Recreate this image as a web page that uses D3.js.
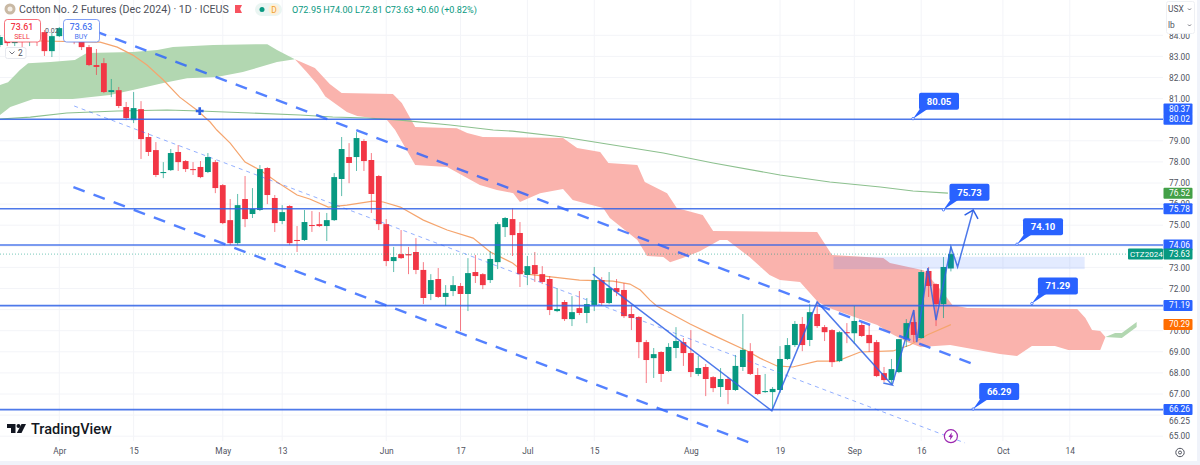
<!DOCTYPE html>
<html>
<head>
<meta charset="utf-8">
<title>Cotton No. 2 Futures</title>
<script src="https://cdn.jsdelivr.net/npm/d3@7"></script>
<style>
	body { margin: 0; background: #fff; }
	svg { display: block; font-family: Roboto, sans-serif; }
	.axis text { font-size: 8.4px; fill: #50535e; font-family: Roboto, sans-serif; }
	.axis path, .axis line { display: none; }
</style>
</head>
<body>
<div id="chart"></div>
<script>
//candles, first one is bar -8 (bar 0 is 1 Apr), rows of ten bars
var firstBar = -8;
var opens = [
	83.54,83.87,83.63,83.96,83.68,83.87,84.15,83.25,83.96,84.25,
	84.01,84.01,83.44,82.59,82.68,81.31,81.40,80.60,79.98,80.50,
	79.18,78.56,77.47,77.61,78.47,78.04,77.66,77.76,77.52,77.99,
	76.90,75.24,74.15,76.24,75.53,75.72,77.71,76.29,75.20,75.91,
	74.30,74.30,75.01,75.05,74.96,75.24,77.19,78.23,78.23,78.99,
	78.09,77.33,75.05,73.30,73.63,73.63,73.73,72.88,71.74,72.45,
	71.60,71.88,72.12,71.74,72.78,72.68,72.40,73.25,74.91,75.29,
	74.63,72.64,73.11,72.68,72.45,70.93,71.36,70.55,71.07,70.84,
	71.22,72.40,71.31,72.02,71.93,70.79,70.65,69.46,68.70,68.99,
	68.09,69.18,69.46,68.94,67.95,68.28,67.80,67.33,67.71,67.19,
	68.28,69.03,67.90,67.09,67.09,67.19,68.66,69.32,70.32,69.56,
	70.79,70.17,70.03,68.56,69.93,69.88,70.27,69.80,69.46,67.99,
	67.66,68.04,69.60,70.41,69.65,72.83,72.21,71.26,72.95];
var highs = [
	84.01,84.06,84.11,84.15,84.06,84.20,84.25,84.11,84.39,84.49,
	84.15,84.25,83.54,83.35,82.92,81.93,81.55,80.84,81.31,80.88,
	79.37,78.94,77.99,78.61,78.80,78.09,77.99,78.04,78.42,78.09,
	76.95,76.24,76.48,77.33,76.76,77.85,77.75,76.43,75.95,75.95,
	74.96,75.72,75.67,75.62,75.58,77.47,79.18,78.89,79.41,79.08,
	78.42,77.38,75.29,73.97,74.77,73.97,74.39,73.25,72.68,72.97,
	72.16,72.59,72.26,73.44,73.59,72.73,73.77,75.15,75.39,75.81,
	75.15,73.54,73.73,73.06,72.59,72.02,71.45,71.64,71.88,71.55,
	73.02,72.54,72.78,72.45,72.26,71.22,70.69,69.56,69.18,69.03,
	69.41,70.17,69.65,70.03,68.80,68.42,67.85,68.23,67.80,68.85,
	70.79,69.41,68.23,67.95,67.33,69.27,69.65,70.46,70.65,71.26,
	71.36,70.27,70.08,69.98,70.36,71.17,70.41,70.27,69.56,68.28,
	68.66,69.61,70.55,70.98,72.88,73.02,72.24,73.49,74.00];
var lows = [
	83.44,83.49,83.49,83.44,83.49,83.49,83.02,82.97,83.92,83.87,
	83.58,83.30,82.54,82.12,81.26,81.07,80.55,79.98,79.84,78.14,
	78.28,77.28,77.23,77.57,77.57,77.52,77.38,77.23,77.47,76.52,
	75.05,74.06,74.06,74.91,75.34,75.67,76.00,74.68,75.05,74.06,
	73.73,74.25,74.68,74.91,74.25,75.20,76.38,76.99,77.57,77.57,
	75.58,74.77,73.06,72.78,73.40,72.68,72.68,71.26,71.45,71.55,
	71.17,71.64,69.98,70.93,72.26,71.97,72.26,72.92,74.44,73.54,
	72.07,72.16,72.31,72.21,70.74,70.88,70.46,70.22,70.74,70.36,
	70.93,71.17,71.26,71.64,70.60,70.03,68.70,67.52,67.76,67.57,
	68.04,68.70,68.33,67.80,67.85,66.90,67.09,66.86,66.52,67.14,
	68.09,67.90,66.95,67.05,66.29,67.05,68.61,69.23,69.03,69.27,
	70.13,69.51,68.28,68.51,69.41,69.37,69.70,68.99,67.80,67.57,
	67.43,67.99,69.23,69.46,69.63,71.60,70.22,70.60,72.81];
var closes = [
	83.92,83.63,83.96,83.68,83.87,83.77,83.25,83.96,84.34,84.01,
	83.77,83.44,82.59,82.50,81.31,81.40,80.65,80.08,80.55,79.08,
	78.47,77.38,77.52,78.42,77.99,77.66,77.61,77.28,78.23,76.76,
	75.10,74.15,75.95,75.29,75.77,77.66,76.43,75.10,75.62,74.15,
	74.25,75.15,74.96,74.96,75.24,77.28,78.61,77.95,79.13,78.04,
	76.48,75.05,73.30,73.49,73.44,73.57,72.88,71.55,72.40,71.60,
	71.79,72.16,71.74,72.73,72.59,72.16,73.40,75.05,75.34,74.53,
	72.68,73.06,72.68,72.31,70.98,71.03,70.55,70.88,70.84,71.26,
	72.40,71.31,72.02,71.83,70.69,70.60,69.46,68.61,68.89,67.95,
	69.23,69.51,68.94,68.04,68.23,67.71,67.28,67.71,67.19,68.33,
	69.09,67.95,67.00,67.14,67.24,68.66,69.32,70.32,69.32,70.88,
	70.22,69.93,68.51,69.93,69.88,70.46,69.75,69.41,67.85,67.66,
	68.18,69.60,70.36,69.80,72.78,72.12,71.26,73.02,73.63];

//moving averages as [bar, price]
var ema = [[-2.6,83.73],[5.5,83.68],[7.8,83.44],[9.9,83.06],[11.8,82.59],[14,81.88],[16.2,81.07],[18.5,80.46],[20.3,79.89],[21.2,79.51],[23,78.89],[25,77.99],[27,77.61],[29.3,77.05],[32,76.43],[33.7,76.24],[36.2,75.86],[38.7,75.95],[42.2,76.14],[43.6,76.10],[45.9,75.86],[49,75.24],[52.2,74.77],[55.7,74.39],[58,73.73],[61,73.21],[62.9,72.68],[66.5,72.54],[70,72.40],[74.5,72.35],[76.8,72.21],[78.2,71.93],[79.5,71.45],[80.4,71.17],[84.9,70.32],[88,69.79],[92.6,69.04],[94.3,68.70],[96.6,68.33],[98.7,68.28],[102,68.56],[104.7,68.56],[107.8,68.99],[112.2,69.04],[114.5,69.32],[116.8,69.80],[120,70.29]];
var sma = [[-8,80.03],[-3.9,80.12],[1,80.32],[7.8,80.41],[14.5,80.46],[18.9,80.41],[25.7,80.32],[32.4,80.22],[36.8,80.13],[41.4,80.08],[45.9,79.98],[52.6,79.75],[58.4,79.51],[61,79.46],[67.8,79.18],[73.7,78.85],[81.3,78.42],[88,77.95],[97,77.38],[103.7,77.05],[110.5,76.81],[114.9,76.62],[119.6,76.52]];

//ichimoku cloud edges as [bar, price]
var greenTop = [[-8,81.64],[-6.9,81.78],[-5.3,82.35],[-4.2,82.68],[-1.2,82.73],[2.1,82.83],[3.7,83.16],[9.9,83.21],[13.2,83.30],[15.3,83.44],[20.7,83.54],[28,83.58],[29.3,83.30],[31.7,82.87]];
var greenBottom = [[-8,80.22],[-6.6,80.60],[-3.5,80.98],[1.8,80.98],[6.8,81.17],[9.9,81.41],[14,81.74],[17.2,81.97],[21.2,82.02],[24.7,82.26],[29.3,82.73],[31.7,82.87]];
var redTop = [[31.7,82.87],[34.4,82.45],[36.4,81.69],[38,81.26],[44.9,81.22],[46.1,80.79],[47.9,79.65],[53.5,79.60],[54.9,79.37],[57,79.18],[67.8,79.13],[69.7,78.66],[72.8,78.47],[73.9,77.95],[77.8,77.85],[78.8,77.05],[81.8,76.52],[83.1,75.81],[86.6,75.48],[88,74.72],[102,74.68],[104,73.59],[110.9,73.44],[111.8,73.21],[116.3,72.87],[119,71.79],[120.2,71.22],[122.2,71.07],[137,71.03],[138.1,70.60],[139,70.03],[140.1,69.98],[140.8,69.70]];
var redBottom = [[31.7,82.87],[33.2,82.30],[34.8,81.65],[35.8,81.10],[38.7,80.36],[40.1,80.17],[44.1,79.98],[45.2,79.51],[47.9,77.85],[52.2,77.76],[56.6,76.90],[58.9,76.67],[61.1,76.52],[62,76.10],[64.7,76.52],[67.8,76.71],[69.1,76.19],[73.2,75.81],[74.1,75.34],[77.8,74.30],[79.1,73.54],[81.3,73.49],[82.2,73.25],[83.9,73.44],[86.2,73.77],[88.9,74.30],[89.9,74.30],[92.9,73.49],[95.6,72.64],[97,72.40],[99.7,72.31],[102.1,71.36],[104,71.03],[107.4,70.60],[110.1,70.27],[111.8,69.89],[114.1,69.46],[115.9,69.23],[119.9,69.32],[126.6,68.89],[128.9,68.80],[130.9,69.27],[134,69.27],[135.8,69.09],[140.1,69.09],[140.8,69.70]];
var futureTop = [[140.8,69.70],[142.1,69.89],[143,69.89],[145,70.41]];
var futureBottom = [[140.8,69.70],[143,69.65],[145,70.17]];

//drawings
var levels = [80.02, 75.78, 74.06, 71.19, 66.26];
var callouts = [[114.9,80.05],[119,75.73],[128.9,74.10],[130.9,71.29],[123,66.29]];
var channelWide = [[[4.8,84.20],[123,68.42]], [[1.9,76.81],[93,64.68]]];
var channelMid = [[2,80.65],[121.9,64.68]];
var zigzag = [[71.8,72.68],[95.9,66.2],[102,71.36],[112.1,67.43],[110.9,67.52],[112.1,67.43],[115,70.98],[115.4,69.46],[116.9,72.97],[118,70.50],[120,73.97],[120.9,73.02],[123,75.72]];
var crossMark = [18.9,80.41];
var boxBars = [104.2,138],
	boxPrices = [73.5,72.92];
var eventMark = [120,65];

//axes, gridTicks get a line, yTicks also get a label (the rest sit under price tags)
var gridTicks = [84,83,82,81,80,79,78,77,76,75,74,73,72,71,70,69,68,67,66,65];
var yTicks = [84,83,82,81,79,78,77,76,75,73,72,70,69,68,67,66.25,65];
var timeBars = [0,10,22,30,44,54,63,72,85,97,107,116,127,136];
var timeLabels = ["Apr","15","May","13","Jun","17","Jul","15","Aug","19","Sep","16","Oct","14"];

//price tags on the right
var tagPrices = [80.37,80.02,76.52,75.78,74.06,73.63,71.19,70.29,66.26];
var tagColours = ["#2962FF","#2962FF","#43A047","#2962FF","#2962FF","#089981","#2962FF","#FF6D00","#2962FF"];

var width = 1200, height = 465;
var upColour = "#089981", downColour = "#F23645", blue = "#2962FF";

var x = d3.scaleLinear().domain([0, 136]).range([59.3, 59.3 + 136 * 7.43]);
var y = d3.scaleLinear().domain([65, 84]).range([436.2, 35.3]);

var svg = d3.select("#chart").append("svg")
	.attr("width", width)
	.attr("height", height);

var line = d3.line()
	.x(function(d){ return x(d[0]); })
	.y(function(d){ return y(d[1]); });

function drawGrid() {
	var grid = svg.append("g");
	grid.selectAll(".h").data(gridTicks).enter().append("line")
		.attr("x1", 0).attr("x2", 1163)
		.attr("y1", function(d){ return y(d); })
		.attr("y2", function(d){ return y(d); })
		.attr("stroke", "#f3f4f8");
	grid.selectAll(".v").data(timeBars).enter().append("line")
		.attr("x1", function(d){ return x(d); })
		.attr("x2", function(d){ return x(d); })
		.attr("y1", 0).attr("y2", 441)
		.attr("stroke", "#f3f4f8");
}

function drawCloud(top, bottom, colour) {
	svg.append("path")
		.attr("d", line(top.concat(bottom.slice().reverse())) + "Z")
		.attr("fill", colour);
}

function drawAverages() {
	svg.append("path").attr("d", line(sma))
		.attr("fill", "none").attr("stroke", "#8cc08e").attr("stroke-width", 1.1);
	svg.append("path").attr("d", line(ema))
		.attr("fill", "none").attr("stroke", "#f5a56e").attr("stroke-width", 1.2);
}

function drawCandles() {
	var bars = d3.range(opens.length);
	var candles = svg.append("g").selectAll("g").data(bars).enter().append("g");
	function colour(i) { return closes[i] >= opens[i] ? upColour : downColour; }
	function barX(i) { return x(i + firstBar); }
	candles.append("line")
		.attr("x1", barX).attr("x2", barX)
		.attr("y1", function(i){ return y(highs[i]); })
		.attr("y2", function(i){ return y(lows[i]); })
		.attr("stroke", colour)
		.attr("stroke-opacity", 0.65);
	candles.append("rect")
		.attr("x", function(i){ return barX(i) - 2.9; })
		.attr("width", 5.8)
		.attr("y", function(i){ return y(Math.max(opens[i], closes[i])); })
		.attr("height", function(i){ return Math.max(1, Math.abs(y(opens[i]) - y(closes[i]))); })
		.attr("fill", colour);
}

function drawDrawings() {
	//highlight box
	svg.append("rect")
		.attr("x", x(boxBars[0]))
		.attr("width", x(boxBars[1]) - x(boxBars[0]))
		.attr("y", y(boxPrices[0]))
		.attr("height", y(boxPrices[1]) - y(boxPrices[0]))
		.attr("fill", blue)
		.attr("fill-opacity", 0.13);

	//last price dotted line
	svg.append("line")
		.attr("x1", 0).attr("x2", 1163)
		.attr("y1", y(closes[closes.length - 1]))
		.attr("y2", y(closes[closes.length - 1]))
		.attr("stroke", upColour)
		.attr("stroke-opacity", 0.55)
		.attr("stroke-dasharray", "1 2");

	//horizontal levels
	svg.append("g").selectAll("line").data(levels).enter().append("line")
		.attr("x1", 0).attr("x2", 1163)
		.attr("y1", function(d){ return y(d); })
		.attr("y2", function(d){ return y(d); })
		.attr("stroke", "#2f62e6")
		.attr("stroke-opacity", 0.85)
		.attr("stroke-width", 1.6);

	//channel
	channelWide.forEach(function(c){
		svg.append("path").attr("d", line(c))
			.attr("fill", "none")
			.attr("stroke", blue)
			.attr("stroke-opacity", 0.8)
			.attr("stroke-width", 2.4)
			.attr("stroke-dasharray", "12 9.5");
	});
	svg.append("path").attr("d", line(channelMid))
		.attr("fill", "none")
		.attr("stroke", blue)
		.attr("stroke-opacity", 0.5)
		.attr("stroke-width", 1)
		.attr("stroke-dasharray", "4 4");

	//zigzag with arrow on the end
	var n = zigzag.length,
		tip = [x(zigzag[n - 1][0]), y(zigzag[n - 1][1])],
		prev = [x(zigzag[n - 2][0]), y(zigzag[n - 2][1])],
		back = Math.atan2(prev[1] - tip[1], prev[0] - tip[0]),
		head = [back - 0.77, back + 0.77].map(function(a){
			return [tip[0] + 10 * Math.cos(a), tip[1] + 10 * Math.sin(a)];
		});
	svg.append("path").attr("d", line(zigzag))
		.attr("fill", "none")
		.attr("stroke", "#2f62e6")
		.attr("stroke-opacity", 0.85)
		.attr("stroke-width", 1.5);
	svg.append("path")
		.attr("d", "M" + head[0] + "L" + tip + "L" + head[1])
		.attr("fill", "none")
		.attr("stroke", "#2f62e6")
		.attr("stroke-width", 1.5);

	//cross
	svg.append("path")
		.attr("d", d3.symbol().type(d3.symbolCross).size(34)())
		.attr("transform", "translate(" + x(crossMark[0]) + "," + y(crossMark[1]) + ")")
		.attr("fill", "#2f62e6");
}

function drawCallouts() {
	var groups = svg.append("g").selectAll("g").data(callouts).enter().append("g")
		.attr("transform", function(d){ return "translate(" + x(d[0]) + "," + y(d[1]) + ")"; });
	groups.append("path")
		.attr("d", "M0,0L7,-10L15,-10Z")
		.attr("fill", blue);
	groups.append("circle")
		.attr("r", 1.2)
		.attr("fill", "#fff")
		.attr("stroke", blue)
		.attr("stroke-width", 0.8);
	groups.append("rect")
		.attr("x", 6).attr("y", -26)
		.attr("width", 40).attr("height", 17)
		.attr("rx", 2)
		.attr("fill", blue);
	groups.append("text")
		.attr("x", 26).attr("y", -14)
		.attr("text-anchor", "middle")
		.attr("fill", "#fff")
		.attr("font-size", 9.5)
		.attr("font-weight", 700)
		.text(function(d){ return d[1].toFixed(2); });
}

function drawAxes() {
	var yAxis = d3.axisRight(y)
		.tickValues(yTicks)
		.tickSize(0)
		.tickPadding(0)
		.tickFormat(d3.format(".2f"));
	var yGroup = svg.append("g").attr("class", "axis")
		.attr("transform", "translate(1169,0)")
		.call(yAxis);
	//the 66.25 label sits pushed below the 66.26 tag
	yGroup.selectAll(".tick text").filter(function(d){ return d == 66.25; })
		.attr("y", 11);

	var xAxis = d3.axisBottom(x)
		.tickValues(timeBars)
		.tickSize(0)
		.tickPadding(7)
		.tickFormat(function(d, i){ return timeLabels[i]; });
	svg.append("g").attr("class", "axis")
		.attr("transform", "translate(0,441)")
		.call(xAxis);

	//price tags
	var tags = svg.append("g").selectAll("g").data(tagPrices).enter().append("g");
	tags.append("rect")
		.attr("x", 1163.5).attr("width", 29).attr("height", 11).attr("rx", 1)
		.attr("y", function(d){ return y(d) - 5.5 - (d == 80.37 ? 3 : 0); })
		.attr("fill", function(d, i){ return tagColours[i]; });
	tags.append("text")
		.attr("x", 1169)
		.attr("y", function(d){ return y(d) + 2.8 - (d == 80.37 ? 3 : 0); })
		.attr("fill", "#fff")
		.attr("font-size", 8.4)
		.text(function(d){ return d.toFixed(2); });

	//symbol tag next to last price
	svg.append("rect")
		.attr("x", 1128).attr("y", y(closes[closes.length - 1]) - 5.5)
		.attr("width", 35).attr("height", 11).attr("rx", 1)
		.attr("fill", upColour);
	svg.append("text")
		.attr("x", 1130).attr("y", y(closes[closes.length - 1]) + 2.8)
		.attr("fill", "#fff")
		.attr("font-size", 8)
		.text("CTZ2024");
}

function drawHeader() {
	svg.append("circle").attr("cx", 10).attr("cy", 9).attr("r", 5.5).attr("fill", "#c9b9a4");
	svg.append("circle").attr("cx", 10).attr("cy", 9).attr("r", 2.5).attr("fill", "#f4efe8");
	svg.append("text").attr("x", 19).attr("y", 12.5)
		.attr("font-size", 10.6)
		.attr("fill", "#4d4f59")
		.text("Cotton No. 2 Futures (Dec 2024) · 1D · ICEUS");
	svg.append("path").attr("d", "M235,5H242L240,9L242,13H235Z").attr("fill", "#f7525f");
	svg.append("rect").attr("x", 255).attr("y", 3).attr("width", 27).attr("height", 13).attr("rx", 6.5).attr("fill", "#eaf5f2");
	svg.append("circle").attr("cx", 262).attr("cy", 9.5).attr("r", 2.5).attr("fill", upColour);
	svg.append("circle").attr("cx", 274).attr("cy", 9.5).attr("r", 5.5).attr("fill", "#fdf0d8");
	svg.append("text").attr("x", 274).attr("y", 12.5).attr("text-anchor", "middle")
		.attr("font-size", 8.4).attr("fill", "#f0a02e").text("D");
	svg.append("text").attr("x", 292).attr("y", 12.5)
		.attr("font-size", 9.1)
		.attr("fill", upColour)
		.text("O72.95 H74.00 L72.81 C73.63 +0.60 (+0.82%)");

	//sell and buy boxes
	var order = [
		{x: 4, w: 36, c: "#F23645", price: "73.61", side: "SELL"},
		{x: 63, w: 36, c: "#4d78f0", price: "73.63", side: "BUY"}
	];
	order.forEach(function(o){
		svg.append("rect").attr("x", o.x + 0.5).attr("y", 19.5).attr("width", o.w).attr("height", 22.5).attr("rx", 3)
			.attr("fill", "#fff").attr("stroke", o.c).attr("stroke-opacity", 0.7);
		svg.append("text").attr("x", o.x + o.w / 2).attr("y", 29.5).attr("text-anchor", "middle")
			.attr("font-size", 8.8).attr("font-weight", 500).attr("fill", o.c).text(o.price);
		svg.append("text").attr("x", o.x + o.w / 2).attr("y", 39).attr("text-anchor", "middle")
			.attr("font-size", 7).attr("fill", o.c).text(o.side);
	});
	svg.append("text").attr("x", 45).attr("y", 33).attr("font-size", 7).attr("fill", "#50535e").text("0.02");

	svg.append("rect").attr("x", 5.5).attr("y", 47.5).attr("width", 20.5).attr("height", 11).attr("rx", 2)
		.attr("fill", "#fff").attr("stroke", "#e6e8ee");
	svg.append("path").attr("d", "M9.5,51.5L12,54L14.5,51.5").attr("fill", "none").attr("stroke", "#50535e").attr("stroke-width", 0.8);
	svg.append("text").attr("x", 18).attr("y", 56).attr("font-size", 8.4).attr("fill", "#50535e").text("2");

	//currency and unit
	svg.append("rect").attr("x", 1166.5).attr("y", 1.5).attr("width", 28).attr("height", 32).attr("rx", 2)
		.attr("fill", "#fff").attr("stroke", "#eef0f4");
	svg.append("text").attr("x", 1168).attr("y", 12).attr("font-size", 8.4).attr("fill", "#50535e").text("USX");
	svg.append("text").attr("x", 1168).attr("y", 28).attr("font-size", 8.4).attr("fill", "#50535e").text("lb");
	[8.5, 24.5].forEach(function(c){
		svg.append("path").attr("d", "M1188," + c + "l1.5,1.5l1.5,-1.5").attr("fill", "none").attr("stroke", "#50535e").attr("stroke-width", 0.8);
	});

	//frame strips
	svg.append("rect").attr("x", 0).attr("y", 461).attr("width", width).attr("height", 4).attr("fill", "#f0f3fa");
	svg.append("rect").attr("x", 1197).attr("y", 0).attr("width", 3).attr("height", height).attr("fill", "#f0f3fa");
}

function drawBrand() {
	svg.append("path")
		.attr("d", "M7,424H15.5V433H11V428H7Z")
		.attr("fill", "#131722");
	svg.append("circle").attr("cx", 18.5).attr("cy", 426).attr("r", 2).attr("fill", "#131722");
	svg.append("path").attr("d", "M21.5,424H26L21.5,433H16.8Z").attr("fill", "#131722");
	svg.append("text").attr("x", 31).attr("y", 434)
		.attr("font-size", 14.5)
		.attr("font-weight", 500)
		.attr("fill", "#131722")
		.text("TradingView");

	//settings icon
	svg.append("circle").attr("cx", 1180).attr("cy", 452.5).attr("r", 4.2)
		.attr("fill", "none").attr("stroke", "#50535e");
	svg.append("circle").attr("cx", 1180).attr("cy", 452.5).attr("r", 1.5)
		.attr("fill", "none").attr("stroke", "#50535e");

	//event marker
	var ev = svg.append("g").attr("transform", "translate(" + x(eventMark[0]) + "," + y(eventMark[1]) + ")");
	ev.append("circle").attr("r", 6.5).attr("fill", "#fff").attr("stroke", "#9C27B0").attr("stroke-width", 1.2);
	ev.append("path").attr("d", "M1,-4L-2.5,0.8H-0.5L-1,4L2.5,-0.8H0.5Z").attr("fill", "#9C27B0");
}

drawGrid();
drawCloud(greenTop, greenBottom, "#b2d7b1");
drawCloud(redTop, redBottom, "#fab3ad");
drawCloud(futureTop, futureBottom, "#b2d7b1");
drawAverages();
drawCandles();
drawDrawings();
drawCallouts();
drawAxes();
drawHeader();
drawBrand();
</script>
</body>
</html>
